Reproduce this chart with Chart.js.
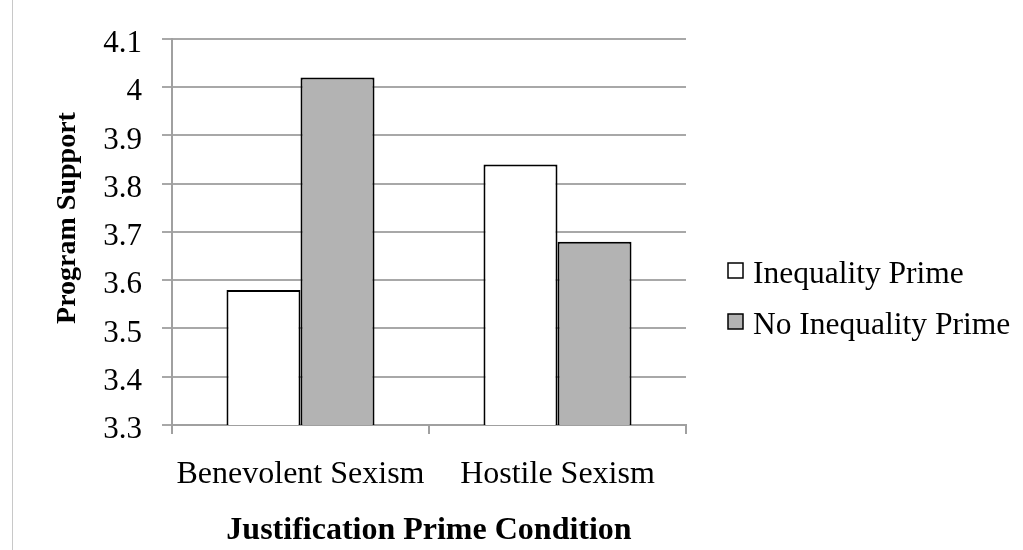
<!DOCTYPE html>
<html>
<head>
<meta charset="utf-8">
<script src="https://cdn.jsdelivr.net/npm/chart.js@4.4.0/dist/chart.umd.min.js"></script>
<style>
    body { margin: 0; background: #fff; }
    #wrap { position: relative; width: 1023px; height: 550px; }
    #edge { position: absolute; left: 12px; top: 0; width: 0; height: 550px; border-left: 1px solid #c8c8c8; }
</style>
</head>
<body>
<div id="wrap">
    <canvas id="myChart" width="1023" height="550"></canvas>
    <div id="edge"></div>
</div>
<script>
const categories = ["Benevolent Sexism", "Hostile Sexism"];
const seriesNames = ["Inequality Prime", "No Inequality Prime"];
const inequalityPrime = [3.58, 3.84];
const noInequalityPrime = [4.02, 3.68];
const yTicks = [3.3, 3.4, 3.5, 3.6, 3.7, 3.8, 3.9, 4.0, 4.1];

window.onload = () => {
    Chart.defaults.font.family = "'Liberation Serif', 'Times New Roman', serif";
    Chart.defaults.color = "#000";

    // legend drawn at the right, like the original Excel figure
    const sideLegend = {
        id: "sideLegend",
        afterDraw(chart) {
            const ctx = chart.ctx;
            ctx.save();
            ctx.font = "31.5px 'Liberation Serif', serif";
            ctx.textBaseline = "middle";
            chart.data.datasets.forEach((ds, i) => {
                const y = 275 + i * 51;
                ctx.fillStyle = ds.backgroundColor;
                ctx.strokeStyle = "#000";
                ctx.lineWidth = 1.5;
                ctx.fillRect(728, y - 12, 15, 15);
                ctx.strokeRect(728, y - 12, 15, 15);
                ctx.fillStyle = "#000";
                ctx.fillText(ds.label, 753, y);
            });
            ctx.restore();
        },
    };

    const data = {
        labels: categories,
        datasets: [
            {
                label: seriesNames[0],
                data: inequalityPrime,
                backgroundColor: "#ffffff",
                borderColor: "#000000",
                borderWidth: 2,
            },
            {
                label: seriesNames[1],
                data: noInequalityPrime,
                backgroundColor: "#b3b3b3",
                borderColor: "#000000",
                borderWidth: 2,
            },
        ],
    };

    const config = {
        type: "bar",
        data: data,
        plugins: [sideLegend],
        options: {
            responsive: false,
            animation: false,
            layout: { padding: { left: 14, top: 39, right: 337, bottom: 0 } },
            datasets: { bar: { categoryPercentage: 0.576, barPercentage: 1.0 } },
            plugins: {
                legend: { display: false },
                tooltip: { enabled: false },
            },
            scales: {
                x: {
                    grid: { drawOnChartArea: false, drawTicks: true, tickLength: 9, color: "#a0a0a0", lineWidth: 2 },
                    border: { color: "#a0a0a0", width: 2 },
                    ticks: { font: { size: 32 }, padding: 21, maxRotation: 0 },
                    title: {
                        display: true,
                        text: "Justification Prime Condition",
                        font: { size: 32, weight: "bold" },
                        padding: { top: 0, bottom: 0 },
                    },
                    afterFit: (scale) => { scale.height = 125; },
                },
                y: {
                    min: 3.3,
                    max: 4.1,
                    afterBuildTicks: (scale) => { scale.ticks = yTicks.map((v) => ({ value: v })); },
                    grid: { color: "#a8a8a8", lineWidth: 2, tickLength: 10 },
                    border: { color: "#a0a0a0", width: 2 },
                    ticks: {
                        font: { size: 31 },
                        padding: 20,
                        labelOffset: 5,
                        callback: (v) => String(v),
                    },
                    title: {
                        display: true,
                        text: "    Program Support",
                        font: { size: 28, weight: "bold" },
                        padding: { top: 37, bottom: 0 },
                    },
                    afterFit: (scale) => { scale.width = 158; },
                },
            },
        },
    };

    const myChart = new Chart(document.getElementById("myChart"), config);
};
</script>
</body>
</html>
